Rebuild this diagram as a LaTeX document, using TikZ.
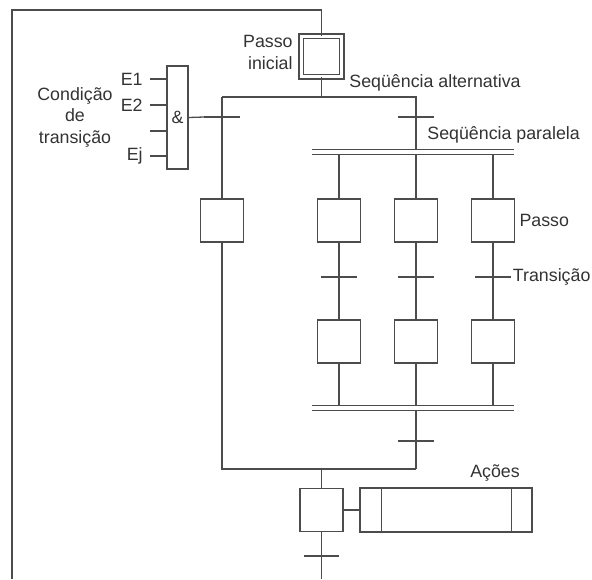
\documentclass[tikz,border=0pt]{standalone}
\usepackage{fontspec}
\setmainfont{Liberation Sans}
\usetikzlibrary{positioning}
\tikzset{
  grafline/.style={draw=black!70, line width=0.65pt},
  passo/.style={grafline, rectangle, minimum size=21.5pt, inner sep=0pt, fill=white},
  passoini/.style={passo, minimum size=20.25pt, double, double distance=1.6pt},
  trans/.style={rectangle, minimum width=17.5pt, minimum height=0pt, inner sep=0pt},
  barra/.style={rectangle, minimum width=101pt, minimum height=2pt, inner sep=0pt},
  rotulo/.style={font=\fontsize{8.9}{10.75}\selectfont, text=black!80, inner sep=0pt},
}
\begin{document}
\begin{tikzpicture}[x=0.5pt, y=-0.5pt]
  \useasboundingbox (0,0) rectangle (592,579);
  % passos
  \node[passoini] (ini) at (321.5,56.5) {};
  \node[passo] (pA) at (222,220.5) {};
  \node[passo] (p1) at (339,220.5) {};
  \node[passo] (p2) at (416,220.5) {};
  \node[passo] (p3) at (493,220.5) {};
  \node[passo] (p4) at (339,341.5) {};
  \node[passo] (p5) at (416,341.5) {};
  \node[passo] (p6) at (493,341.5) {};
  \node[passo] (pF) at (321.5,510) {};
  \node[passo, minimum width=86pt, minimum height=22pt] (acao) at (446,510) {};
  % transicoes e barras
  \node[trans] (tA) at (222,117) {};
  \node[trans] (tB) at (416,117) {};
  \node[trans] (t1) at (339,277) {};
  \node[trans] (t2) at (416,277) {};
  \node[trans] (t3) at (493,277) {};
  \node[trans] (tC) at (416,441) {};
  \node[trans] (tF) at (321.5,556) {};
  \node[barra] (bd) at (413,152) {};
  \node[barra] (bc) at (413,408) {};
  \coordinate (da) at (222,97);
  \coordinate (db) at (416,97);
  \coordinate (ca) at (222,469);
  \coordinate (cb) at (416,469);
  \coordinate (topo) at (321.5,10);
  \coordinate (fimE) at (12,579);
  \coordinate (fim) at (321.5,579);
  % porta E
  \node[grafline, rectangle, minimum width=10.5pt, minimum height=51.5pt, inner sep=0pt,
    font=\fontsize{8.9}{10.75}\selectfont, text=black!80] (porta) at (177.5,117.5) {\&};
  \coordinate (e1) at (150,79);
  \coordinate (e2) at (150,105);
  \coordinate (e3) at (150,131);
  \coordinate (e4) at (150,156);

  \foreach \t in {tA,tB,t1,t2,t3,tC,tF}
    \draw[grafline] (\t.west) -- (\t.east);
  \foreach \b in {bd,bc}
    \draw[grafline] (\b.north west) -- (\b.north east) (\b.south west) -- (\b.south east);
  \foreach \e in {e1,e2,e3,e4}
    \draw[grafline] (\e) -- (\e -| porta.west);

  \draw[grafline] (fimE) |- (topo) -- (ini);
  \draw[grafline] (ini) -- (ini |- da);
  \draw[grafline] (da) -- (db) -- (db |- bd.north);
  \draw[grafline] (da) -- (pA) -- (ca) -- (cb);
  \foreach \a/\b in {p1/p4,p2/p5,p3/p6}
    \draw[grafline] (\a |- bd.south) -- (\a) -- (\b) -- (\b |- bc.north);
  \draw[grafline] (tC |- bc.south) -- (cb);
  \draw[grafline] (pF |- ca) -- (pF) -- (fim);
  \draw[grafline] (pF) -- (acao);
  \draw[grafline] (porta.east) -- (tA.west);
  \draw[grafline] ([xshift=11pt]acao.north west) -- ([xshift=11pt]acao.south west);
  \draw[grafline] ([xshift=-10.5pt]acao.north east) -- ([xshift=-10.5pt]acao.south east);

  % textos
  \node[rotulo, left=3.5pt of e1] (le1) {E1};
  \node[rotulo, left=3.5pt of e2] (le2) {E2};
  \node[rotulo, left=3.5pt of e4] (le4) {Ej};
  \node[rotulo, align=center] (cond) at (75,117) {Condição\\de\\transição};
  \node[rotulo, align=right, anchor=east] (lini) at (293,52.5) {Passo\\inicial};
  \node[rotulo, anchor=west] (lalt) at (349,83) {Seqüência alternativa};
  \node[rotulo, anchor=west] (lpar) at (427,135) {Seqüência paralela};
  \node[rotulo, right=2pt of p3] (lpasso) {Passo};
  \node[rotulo, right=0.8pt of t3] (ltr) {Transição};
  \node[rotulo, anchor=south] (lacao) at (495,482) {Ações};
\end{tikzpicture}
\end{document}
